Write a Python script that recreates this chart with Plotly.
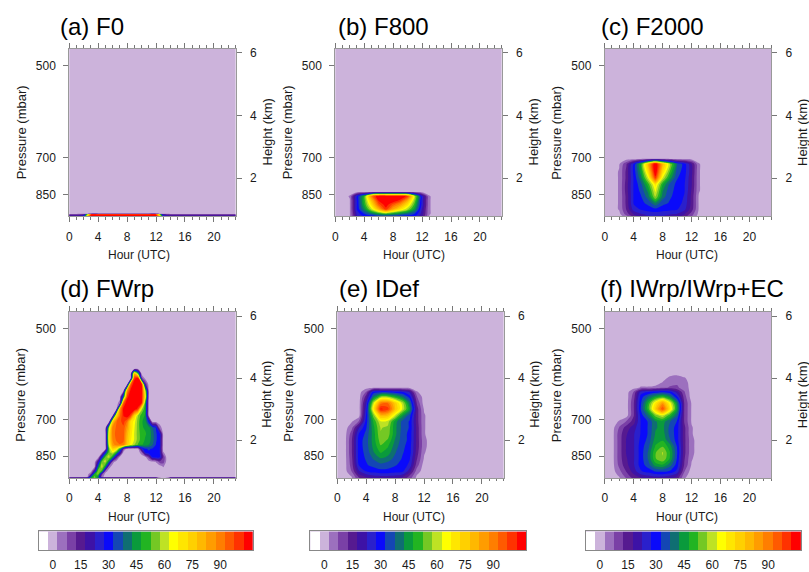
import plotly.graph_objects as go

FIG_W, FIG_H = 809, 572
FONT = "Liberation Sans, Arial, Helvetica, sans-serif"

# ---------------- data ----------------
HOURS = [0, 1, 2, 3, 4, 5, 6, 7, 8, 9, 10, 11, 12, 13, 14, 15, 16, 17, 18, 19, 20, 21, 22, 23]

# (a) F0
A_HEIGHTS = [0.78, 0.83, 0.86, 6.14]
A_VALUES = [
    [22, 22, 28, 108, 110, 110, 110, 110, 110, 110, 110, 110, 108, 30, 22, 22, 22, 22, 22, 22, 22, 22, 22, 22],
    [12, 12, 18, 106, 110, 110, 110, 110, 110, 110, 110, 110, 106, 20, 12, 12, 12, 12, 12, 12, 12, 12, 12, 12],
    [0, 0, 0, 0, 0, 0, 0, 0, 0, 0, 0, 0, 0, 0, 0, 0, 0, 0, 0, 0, 0, 0, 0, 0],
    [0, 0, 0, 0, 0, 0, 0, 0, 0, 0, 0, 0, 0, 0, 0, 0, 0, 0, 0, 0, 0, 0, 0, 0],
]

# (b) F800
B_HEIGHTS = [0.78, 0.85, 1.0, 1.15, 1.28, 1.42, 1.56, 6.14]
B_VALUES = [
    [0, 0, 2, 22, 28, 30, 32, 33, 32, 31, 30, 28, 18, 2, 0, 0, 0, 0, 0, 0, 0, 0, 0, 0],
    [0, 0, 2, 24, 32, 38, 44, 48, 44, 40, 36, 32, 20, 3, 0, 0, 0, 0, 0, 0, 0, 0, 0, 0],
    [0, 0, 2, 28, 42, 60, 80, 100, 82, 70, 58, 44, 22, 3, 0, 0, 0, 0, 0, 0, 0, 0, 0, 0],
    [0, 0, 2, 28, 48, 70, 95, 106, 95, 85, 70, 50, 25, 3, 0, 0, 0, 0, 0, 0, 0, 0, 0, 0],
    [0, 0, 2, 28, 50, 78, 103, 110, 108, 100, 82, 55, 25, 3, 0, 0, 0, 0, 0, 0, 0, 0, 0, 0],
    [0, 0, 3, 28, 50, 90, 110, 110, 110, 110, 100, 60, 25, 3, 0, 0, 0, 0, 0, 0, 0, 0, 0, 0],
    [0, 0, 0, 0, 0, 0, 0, 0, 0, 0, 0, 0, 0, 0, 0, 0, 0, 0, 0, 0, 0, 0, 0, 0],
    [0, 0, 0, 0, 0, 0, 0, 0, 0, 0, 0, 0, 0, 0, 0, 0, 0, 0, 0, 0, 0, 0, 0, 0],
]

# (c) F2000
C_HEIGHTS = [0.78, 0.85, 1.0, 1.2, 1.4, 1.6, 1.8, 2.0, 2.2, 2.45, 2.62, 6.14]
C_VALUES = [
    [0, 0, 0, 5, 15, 20, 22, 22, 22, 21, 20, 15, 8, 0, 0, 0, 0, 0, 0, 0, 0, 0, 0, 0],
    [0, 0, 1, 10, 18, 22, 24, 25, 24, 23, 22, 18, 10, 1, 0, 0, 0, 0, 0, 0, 0, 0, 0, 0],
    [0, 0, 3, 13, 25, 28, 30, 31, 30, 29, 28, 24, 15, 2, 0, 0, 0, 0, 0, 0, 0, 0, 0, 0],
    [0, 0, 3, 14, 28, 31, 34, 42, 34, 32, 30, 26, 16, 2, 0, 0, 0, 0, 0, 0, 0, 0, 0, 0],
    [0, 0, 3, 14, 28, 32, 40, 58, 40, 33, 31, 27, 16, 2, 0, 0, 0, 0, 0, 0, 0, 0, 0, 0],
    [0, 0, 3, 15, 28, 34, 44, 64, 43, 34, 31, 28, 17, 3, 0, 0, 0, 0, 0, 0, 0, 0, 0, 0],
    [0, 0, 3, 15, 28, 36, 50, 70, 48, 36, 31, 28, 18, 3, 0, 0, 0, 0, 0, 0, 0, 0, 0, 0],
    [0, 0, 3, 14, 28, 41, 62, 100, 62, 45, 33, 29, 18, 3, 0, 0, 0, 0, 0, 0, 0, 0, 0, 0],
    [0, 0, 3, 14, 29, 45, 72, 110, 72, 52, 35, 30, 19, 3, 0, 0, 0, 0, 0, 0, 0, 0, 0, 0],
    [0, 0, 2, 12, 28, 48, 80, 110, 80, 58, 38, 30, 18, 3, 0, 0, 0, 0, 0, 0, 0, 0, 0, 0],
    [0, 0, 0, 0, 0, 0, 0, 0, 0, 0, 0, 0, 0, 0, 0, 0, 0, 0, 0, 0, 0, 0, 0, 0],
    [0, 0, 0, 0, 0, 0, 0, 0, 0, 0, 0, 0, 0, 0, 0, 0, 0, 0, 0, 0, 0, 0, 0, 0],
]

# (d) FWrp  (half-hour columns between 2 and 14 UTC)
D_HOURS = [0, 1, 2, 2.5, 3, 3.5, 4, 4.5, 5, 5.5, 6, 6.5, 7, 7.5, 8, 8.5, 9, 9.5, 10, 10.5,
           11, 11.5, 12, 12.5, 13, 13.5, 14, 15, 16, 17, 18, 19, 20, 21, 22, 23]
D_HEIGHTS = [0.78, 0.81, 0.9, 1.0, 1.15, 1.3, 1.45, 1.6, 1.72, 1.85, 2.0, 2.2, 2.4, 2.6,
             2.8, 3.0, 3.2, 3.4, 3.6, 3.8, 4.0, 4.15, 4.3, 6.14]
D_VALUES = [
    # h: 0  1 | 2 2.5  3 3.5  4 4.5  5 5.5  6 6.5  7 7.5  8 8.5  9 9.5 10 10.5 11 11.5 12 12.5 13 13.5 14 | 15..23
    [22, 22, 22, 25, 45, 55, 45, 25, 22, 22, 22, 22, 22, 22, 22, 22, 22, 22, 22, 22, 22, 22, 22, 5, 0, 5, 22, 22, 22, 22, 22, 22, 22, 22, 22, 22],
    [0, 0, 0, 0, 40, 55, 40, 5, 0, 0, 0, 0, 0, 0, 0, 0, 0, 0, 0, 0, 0, 0, 0, 0, 0, 0, 0, 0, 0, 0, 0, 0, 0, 0, 0, 0],
    [0, 0, 0, 0, 10, 50, 55, 10, 0, 0, 0, 0, 0, 0, 0, 0, 0, 0, 0, 0, 0, 0, 0, 0, 0, 0, 0, 0, 0, 0, 0, 0, 0, 0, 0, 0],
    [0, 0, 0, 0, 0, 20, 58, 50, 5, 0, 0, 0, 0, 0, 0, 0, 0, 0, 0, 0, 0, 0, 0, 0, 0, 0, 0, 0, 0, 0, 0, 0, 0, 0, 0, 0],
    [0, 0, 0, 0, 0, 0, 40, 62, 45, 5, 0, 0, 0, 0, 0, 0, 0, 0, 0, 0, 0, 0, 0, 0, 3, 0, 0, 0, 0, 0, 0, 0, 0, 0, 0, 0],
    [0, 0, 0, 0, 0, 0, 20, 55, 60, 40, 5, 0, 0, 0, 0, 0, 0, 0, 0, 0, 0, 0, 3, 10, 10, 0, 0, 0, 0, 0, 0, 0, 0, 0, 0, 0],
    [0, 0, 0, 0, 0, 0, 0, 30, 55, 60, 45, 15, 0, 0, 0, 0, 0, 0, 0, 0, 10, 28, 30, 28, 12, 0, 0, 0, 0, 0, 0, 0, 0, 0, 0, 0],
    [0, 0, 0, 0, 0, 0, 0, 0, 30, 55, 62, 50, 25, 0, 0, 0, 0, 0, 5, 28, 32, 32, 31, 28, 3, 0, 0, 0, 0, 0, 0, 0, 0, 0, 0, 0],
    [0, 0, 0, 0, 0, 0, 0, 0, 0, 55, 75, 70, 50, 10, 0, 0, 0, 0, 25, 32, 33, 32, 31, 28, 0, 0, 0, 0, 0, 0, 0, 0, 0, 0, 0, 0],
    [0, 0, 0, 0, 0, 0, 0, 0, 0, 65, 85, 90, 92, 90, 75, 65, 58, 52, 48, 46, 43, 38, 32, 30, 0, 0, 0, 0, 0, 0, 0, 0, 0, 0, 0, 0],
    [0, 0, 0, 0, 0, 0, 0, 0, 0, 70, 88, 93, 96, 94, 78, 68, 62, 55, 50, 47, 45, 40, 33, 30, 0, 0, 0, 0, 0, 0, 0, 0, 0, 0, 0, 0],
    [0, 0, 0, 0, 0, 0, 0, 0, 0, 70, 90, 94, 97, 95, 80, 70, 62, 55, 50, 48, 46, 40, 33, 30, 0, 0, 0, 0, 0, 0, 0, 0, 0, 0, 0, 0],
    [0, 0, 0, 0, 0, 0, 0, 0, 0, 60, 90, 93, 96, 96, 85, 72, 63, 55, 48, 47, 45, 38, 32, 5, 0, 0, 0, 0, 0, 0, 0, 0, 0, 0, 0, 0],
    [0, 0, 0, 0, 0, 0, 0, 0, 0, 0, 75, 92, 96, 100, 92, 72, 65, 55, 48, 46, 30, 0, 0, 0, 0, 0, 0, 0, 0, 0, 0, 0, 0, 0, 0, 0],
    [0, 0, 0, 0, 0, 0, 0, 0, 0, 0, 0, 70, 92, 103, 108, 100, 75, 58, 50, 47, 0, 0, 0, 0, 0, 0, 0, 0, 0, 0, 0, 0, 0, 0, 0, 0],
    [0, 0, 0, 0, 0, 0, 0, 0, 0, 0, 0, 0, 85, 105, 110, 110, 108, 100, 60, 48, 0, 0, 0, 0, 0, 0, 0, 0, 0, 0, 0, 0, 0, 0, 0, 0],
    [0, 0, 0, 0, 0, 0, 0, 0, 0, 0, 0, 0, 5, 95, 108, 110, 110, 108, 104, 50, 0, 0, 0, 0, 0, 0, 0, 0, 0, 0, 0, 0, 0, 0, 0, 0],
    [0, 0, 0, 0, 0, 0, 0, 0, 0, 0, 0, 0, 0, 40, 100, 108, 110, 110, 105, 70, 0, 0, 0, 0, 0, 0, 0, 0, 0, 0, 0, 0, 0, 0, 0, 0],
    [0, 0, 0, 0, 0, 0, 0, 0, 0, 0, 0, 0, 0, 0, 85, 105, 110, 110, 108, 60, 0, 0, 0, 0, 0, 0, 0, 0, 0, 0, 0, 0, 0, 0, 0, 0],
    [0, 0, 0, 0, 0, 0, 0, 0, 0, 0, 0, 0, 0, 0, 0, 95, 108, 108, 105, 15, 0, 0, 0, 0, 0, 0, 0, 0, 0, 0, 0, 0, 0, 0, 0, 0],
    [0, 0, 0, 0, 0, 0, 0, 0, 0, 0, 0, 0, 0, 0, 0, 0, 100, 105, 10, 0, 0, 0, 0, 0, 0, 0, 0, 0, 0, 0, 0, 0, 0, 0, 0, 0],
    [0, 0, 0, 0, 0, 0, 0, 0, 0, 0, 0, 0, 0, 0, 0, 0, 80, 50, 0, 0, 0, 0, 0, 0, 0, 0, 0, 0, 0, 0, 0, 0, 0, 0, 0, 0],
    [0, 0, 0, 0, 0, 0, 0, 0, 0, 0, 0, 0, 0, 0, 0, 0, 0, 0, 0, 0, 0, 0, 0, 0, 0, 0, 0, 0, 0, 0, 0, 0, 0, 0, 0, 0],
    [0, 0, 0, 0, 0, 0, 0, 0, 0, 0, 0, 0, 0, 0, 0, 0, 0, 0, 0, 0, 0, 0, 0, 0, 0, 0, 0, 0, 0, 0, 0, 0, 0, 0, 0, 0],
]

# (e) IDef
E_HEIGHTS = [0.78, 0.85, 1.0, 1.2, 1.4, 1.6, 1.8, 2.0, 2.2, 2.4, 2.6, 2.8, 3.0, 3.2, 3.4, 3.55, 3.7, 6.14]
E_VALUES = [
    [0, 0, 2, 12, 16, 18, 18, 18, 18, 16, 10, 1, 0, 0, 0, 0, 0, 0, 0, 0, 0, 0, 0, 0],
    [0, 0, 3, 15, 20, 22, 23, 23, 22, 20, 12, 2, 0, 0, 0, 0, 0, 0, 0, 0, 0, 0, 0, 0],
    [0, 0, 8, 22, 28, 30, 31, 31, 30, 29, 20, 5, 0, 0, 0, 0, 0, 0, 0, 0, 0, 0, 0, 0],
    [0, 0, 10, 28, 32, 34, 36, 35, 33, 31, 26, 10, 0, 0, 0, 0, 0, 0, 0, 0, 0, 0, 0, 0],
    [0, 0, 11, 30, 33, 38, 42, 40, 36, 32, 28, 13, 2, 0, 0, 0, 0, 0, 0, 0, 0, 0, 0, 0],
    [0, 0, 12, 30, 34, 42, 48, 45, 38, 33, 30, 15, 3, 0, 0, 0, 0, 0, 0, 0, 0, 0, 0, 0],
    [0, 0, 12, 30, 35, 44, 52, 48, 40, 34, 30, 16, 4, 0, 0, 0, 0, 0, 0, 0, 0, 0, 0, 0],
    [0, 0, 12, 30, 35, 45, 55, 52, 42, 35, 31, 16, 4, 0, 0, 0, 0, 0, 0, 0, 0, 0, 0, 0],
    [0, 0, 10, 28, 34, 45, 57, 55, 44, 35, 31, 16, 3, 0, 0, 0, 0, 0, 0, 0, 0, 0, 0, 0],
    [0, 0, 6, 22, 32, 46, 58, 56, 44, 36, 32, 16, 3, 0, 0, 0, 0, 0, 0, 0, 0, 0, 0, 0],
    [0, 0, 2, 8, 30, 48, 62, 60, 45, 36, 32, 15, 3, 0, 0, 0, 0, 0, 0, 0, 0, 0, 0, 0],
    [0, 0, 0, 0, 28, 55, 80, 78, 62, 45, 35, 15, 3, 0, 0, 0, 0, 0, 0, 0, 0, 0, 0, 0],
    [0, 0, 0, 0, 25, 68, 104, 100, 78, 62, 45, 15, 2, 0, 0, 0, 0, 0, 0, 0, 0, 0, 0, 0],
    [0, 0, 0, 0, 22, 60, 90, 92, 75, 60, 40, 12, 0, 0, 0, 0, 0, 0, 0, 0, 0, 0, 0, 0],
    [0, 0, 0, 0, 15, 40, 55, 55, 48, 40, 30, 8, 0, 0, 0, 0, 0, 0, 0, 0, 0, 0, 0, 0],
    [0, 0, 0, 0, 8, 30, 32, 32, 30, 28, 22, 3, 0, 0, 0, 0, 0, 0, 0, 0, 0, 0, 0, 0],
    [0, 0, 0, 0, 0, 0, 0, 0, 0, 0, 0, 0, 0, 0, 0, 0, 0, 0, 0, 0, 0, 0, 0, 0],
    [0, 0, 0, 0, 0, 0, 0, 0, 0, 0, 0, 0, 0, 0, 0, 0, 0, 0, 0, 0, 0, 0, 0, 0],
]

# (f) IWrp/IWrp+EC
F_HEIGHTS = [0.78, 0.85, 1.0, 1.2, 1.4, 1.6, 1.8, 2.0, 2.2, 2.4, 2.6, 2.8, 3.0, 3.2, 3.4, 3.55,
             3.7, 3.85, 4.0, 4.15, 6.14]
F_VALUES = [
    [0, 0, 2, 8, 14, 17, 19, 20, 20, 19, 15, 3, 0, 0, 0, 0, 0, 0, 0, 0, 0, 0, 0, 0],
    [0, 0, 3, 10, 16, 20, 22, 24, 24, 22, 18, 4, 0, 0, 0, 0, 0, 0, 0, 0, 0, 0, 0, 0],
    [0, 0, 6, 13, 20, 27, 30, 33, 34, 32, 26, 8, 0, 0, 0, 0, 0, 0, 0, 0, 0, 0, 0, 0],
    [0, 0, 9, 16, 22, 30, 35, 45, 47, 40, 30, 12, 2, 0, 0, 0, 0, 0, 0, 0, 0, 0, 0, 0],
    [0, 0, 10, 17, 22, 30, 38, 52, 57, 47, 32, 13, 3, 0, 0, 0, 0, 0, 0, 0, 0, 0, 0, 0],
    [0, 0, 10, 18, 22, 30, 38, 52, 58, 48, 33, 14, 4, 0, 0, 0, 0, 0, 0, 0, 0, 0, 0, 0],
    [0, 0, 10, 18, 22, 30, 36, 48, 52, 45, 32, 14, 4, 0, 0, 0, 0, 0, 0, 0, 0, 0, 0, 0],
    [0, 0, 10, 18, 22, 29, 34, 45, 47, 38, 30, 14, 4, 0, 0, 0, 0, 0, 0, 0, 0, 0, 0, 0],
    [0, 0, 10, 17, 22, 28, 33, 43, 45, 36, 30, 14, 3, 0, 0, 0, 0, 0, 0, 0, 0, 0, 0, 0],
    [0, 0, 8, 15, 20, 28, 33, 42, 44, 36, 30, 14, 3, 0, 0, 0, 0, 0, 0, 0, 0, 0, 0, 0],
    [0, 0, 3, 8, 15, 28, 33, 42, 45, 38, 32, 12, 2, 0, 0, 0, 0, 0, 0, 0, 0, 0, 0, 0],
    [0, 0, 0, 0, 12, 30, 40, 55, 62, 50, 38, 12, 2, 0, 0, 0, 0, 0, 0, 0, 0, 0, 0, 0],
    [0, 0, 0, 0, 12, 33, 50, 75, 98, 70, 45, 12, 2, 0, 0, 0, 0, 0, 0, 0, 0, 0, 0, 0],
    [0, 0, 0, 0, 12, 32, 48, 68, 85, 65, 42, 12, 2, 0, 0, 0, 0, 0, 0, 0, 0, 0, 0, 0],
    [0, 0, 0, 0, 10, 30, 38, 45, 50, 42, 28, 10, 0, 0, 0, 0, 0, 0, 0, 0, 0, 0, 0, 0],
    [0, 0, 0, 0, 8, 25, 28, 30, 32, 30, 20, 8, 0, 0, 0, 0, 0, 0, 0, 0, 0, 0, 0, 0],
    [0, 0, 0, 0, 0, 3, 3, 4, 6, 8, 8, 6, 0, 0, 0, 0, 0, 0, 0, 0, 0, 0, 0, 0],
    [0, 0, 0, 0, 0, 0, 0, 0, 3, 6, 7, 5, 0, 0, 0, 0, 0, 0, 0, 0, 0, 0, 0, 0],
    [0, 0, 0, 0, 0, 0, 0, 0, 0, 4, 6, 3, 0, 0, 0, 0, 0, 0, 0, 0, 0, 0, 0, 0],
    [0, 0, 0, 0, 0, 0, 0, 0, 0, 0, 0, 0, 0, 0, 0, 0, 0, 0, 0, 0, 0, 0, 0, 0],
    [0, 0, 0, 0, 0, 0, 0, 0, 0, 0, 0, 0, 0, 0, 0, 0, 0, 0, 0, 0, 0, 0, 0, 0],
]

PANEL_TITLES = ["(a) F0", "(b) F800", "(c) F2000", "(d) FWrp", "(e) IDef", "(f) IWrp/IWrp+EC"]

# colour levels (one colour per 5-unit class, centred on the values below)
CB_VALUES = [-5, 0, 5, 10, 15, 20, 25, 30, 35, 40, 45, 50, 55, 60, 65, 70, 75, 80, 85, 90, 95, 100, 105]
CB_TICKS = [0, 15, 30, 45, 60, 75, 90]
COLORS = ["#FFFFFF", "#CCB3DB", "#9C70BE", "#7A40A6", "#561A90", "#3D12A6", "#2A20CC",
          "#0A0AFA", "#1446B4", "#0F6E72", "#0A9A3C", "#22B422", "#74C824", "#BEE224",
          "#FFFF00", "#FFE600", "#FFD000", "#FFB800", "#FF9C00", "#FF7E00", "#FF5A00",
          "#FF3200", "#FF0000"]

# axes
HOUR_TICKS = [0, 4, 8, 12, 16, 20]
HOUR_RANGE = [0, 23]
HEIGHT_RANGE = [0.78, 6.14]
HEIGHT_TICKS = [2, 4, 6]
PRESSURE_LABELS = ["500", "700", "850"]
PRESSURE_LABEL_HEIGHTS = [5.60, 2.66, 1.48]

# ---------------- styling / layout (pixels) ----------------
PANEL_BOXES = [  # left, right, top, bottom
    (66.5, 233.5, 47, 216.5), (333.5, 500.5, 47, 216.5), (604, 771, 47, 216.5),
    (66.5, 233.5, 313, 481), (335.5, 502.5, 313, 481), (604, 771, 313, 481),
]
CB_BOXES = [(36, 250.7, 535, 554), (308.3, 525, 535, 554), (585, 801, 535, 554)]
TITLE_POS = [(55.5, 24.7), (334.5, 24.7), (598, 24.7), (55.5, 290), (335.5, 290), (597.5, 290)]
HOUR_LABEL_X = [137, 412.5, 687]
HOUR_LABEL_Y = [256, 520]

LAVENDER = COLORS[1]
TICK_COLOR = "#777777"
LINE_COLOR = "#999999"
TEXT_COLOR = "#1a1a1a"

panel_x = [HOURS, HOURS, HOURS, D_HOURS, HOURS, HOURS]
panel_y = [A_HEIGHTS, B_HEIGHTS, C_HEIGHTS, D_HEIGHTS, E_HEIGHTS, F_HEIGHTS]
panel_z = [A_VALUES, B_VALUES, C_VALUES, D_VALUES, E_VALUES, F_VALUES]

# stepwise colourscale: colour k covers value CB_VALUES[k] +- 2.5
n = len(COLORS) - 1
colorscale = []
for k, c in enumerate(COLORS):
    lo = max(0.0, (k - 0.5) / n)
    hi = min(1.0, (k + 0.5) / n)
    colorscale.append([lo, c])
    colorscale.append([hi, c])


def fx(px):
    return px / FIG_W


def fy(py):
    return 1 - py / FIG_H


def axname(prefix, i):
    return prefix if i == 1 else f"{prefix}{i}"


fig = go.Figure()
layout = dict(
    width=FIG_W, height=FIG_H, margin=dict(l=0, r=0, t=0, b=0),
    paper_bgcolor="white", plot_bgcolor=LAVENDER, showlegend=False,
    font=dict(family=FONT, size=12, color=TEXT_COLOR),
)
annotations = []

for i in range(6):
    n_ax = i + 1
    xa, ya, yr = axname("x", n_ax), axname("y", n_ax), f"y{n_ax + 6}"
    left, right, top, bottom = PANEL_BOXES[i]

    fig.add_trace(go.Contour(
        x=panel_x[i], y=panel_y[i], z=panel_z[i],
        xaxis=xa, yaxis=ya, colorscale=colorscale, showscale=False,
        autocontour=False,
        contours=dict(start=-2.5, end=102.5, size=5, coloring="fill", showlines=False),
        line=dict(width=0, smoothing=0.8), hoverinfo="skip",
    ))
    fig.add_trace(go.Scatter(x=[None], y=[None], xaxis=xa, yaxis=yr, mode="markers",
                             showlegend=False, hoverinfo="skip"))

    layout[axname("xaxis", n_ax)] = dict(
        domain=[fx(left), fx(right)], anchor=ya, range=HOUR_RANGE,
        tickmode="array", tickvals=HOUR_TICKS, ticks="outside", ticklen=5, tickwidth=1,
        tickcolor=TICK_COLOR, ticklabelstandoff=4,
        minor=dict(tick0=0, dtick=1, ticks="outside", ticklen=2.5, tickcolor=TICK_COLOR, showgrid=False),
        showline=True, linecolor=LINE_COLOR, linewidth=1, mirror="ticks",
        showgrid=False, zeroline=False, tickfont=dict(size=12, color=TEXT_COLOR),
    )
    layout[axname("yaxis", n_ax)] = dict(
        domain=[fy(bottom), fy(top)], anchor=xa, range=HEIGHT_RANGE,
        tickmode="array", tickvals=PRESSURE_LABEL_HEIGHTS, ticktext=PRESSURE_LABELS,
        ticks="outside", ticklen=5, tickwidth=1, tickcolor=TICK_COLOR, ticklabelstandoff=5,
        showline=True, linecolor=LINE_COLOR, linewidth=1, mirror=True,
        showgrid=False, zeroline=False, tickfont=dict(size=12, color=TEXT_COLOR),
    )
    layout[f"yaxis{n_ax + 6}"] = dict(
        overlaying=ya, side="right", anchor=xa, range=HEIGHT_RANGE,
        tickmode="array", tickvals=HEIGHT_TICKS, ticks="outside", ticklen=5, tickwidth=1,
        tickcolor=TICK_COLOR, ticklabelstandoff=6, showline=False,
        showgrid=False, zeroline=False, tickfont=dict(size=12, color=TEXT_COLOR),
    )

    tx, ty = TITLE_POS[i]
    annotations.append(dict(text=PANEL_TITLES[i], x=fx(tx), y=fy(ty), xref="paper", yref="paper",
                            xanchor="left", yanchor="middle", showarrow=False,
                            font=dict(size=24, color="black")))
    row = i // 3
    col = i % 3
    annotations.append(dict(text="Hour (UTC)", x=fx(HOUR_LABEL_X[col]), y=fy(HOUR_LABEL_Y[row]),
                            xref="paper", yref="paper", xanchor="center", yanchor="middle",
                            showarrow=False, font=dict(size=12, color=TEXT_COLOR)))
    mid = (top + bottom) / 2
    annotations.append(dict(text="Pressure (mbar)", x=fx(left - 48.5), y=fy(mid), textangle=-90,
                            xref="paper", yref="paper", xanchor="center", yanchor="middle",
                            showarrow=False, font=dict(size=13, color=TEXT_COLOR)))
    annotations.append(dict(text="Height (km)", x=fx(right + 31.5), y=fy(mid), textangle=-90,
                            xref="paper", yref="paper", xanchor="center", yanchor="middle",
                            showarrow=False, font=dict(size=13, color=TEXT_COLOR)))

# label bars under the bottom row
for j, (left, right, top, bottom) in enumerate(CB_BOXES):
    xn, yn = 7 + j, 13 + j
    xa, ya = f"x{xn}", f"y{yn}"
    fig.add_trace(go.Heatmap(
        x=CB_VALUES, y=[0], z=[CB_VALUES], xaxis=xa, yaxis=ya,
        colorscale=colorscale, zmin=CB_VALUES[0], zmax=CB_VALUES[-1],
        showscale=False, hoverinfo="skip",
    ))
    layout[f"xaxis{xn}"] = dict(
        domain=[fx(left), fx(right)], anchor=ya, range=[-7.5, 107.5],
        tickmode="array", tickvals=CB_TICKS, ticks="", ticklabelstandoff=3,
        showline=True, linecolor="#888888", linewidth=1, mirror=True,
        showgrid=False, zeroline=False, tickfont=dict(size=12, color=TEXT_COLOR),
    )
    layout[f"yaxis{yn}"] = dict(
        domain=[fy(bottom), fy(top)], anchor=xa, range=[-0.5, 0.5],
        showticklabels=False, ticks="", showline=True, linecolor="#888888", linewidth=1,
        mirror=True, showgrid=False, zeroline=False,
    )

layout["annotations"] = annotations
fig.update_layout(**layout)
fig.write_html("out.html", config={"displayModeBar": False},
               post_script="document.body.style.margin='0';document.body.style.padding='0';")
